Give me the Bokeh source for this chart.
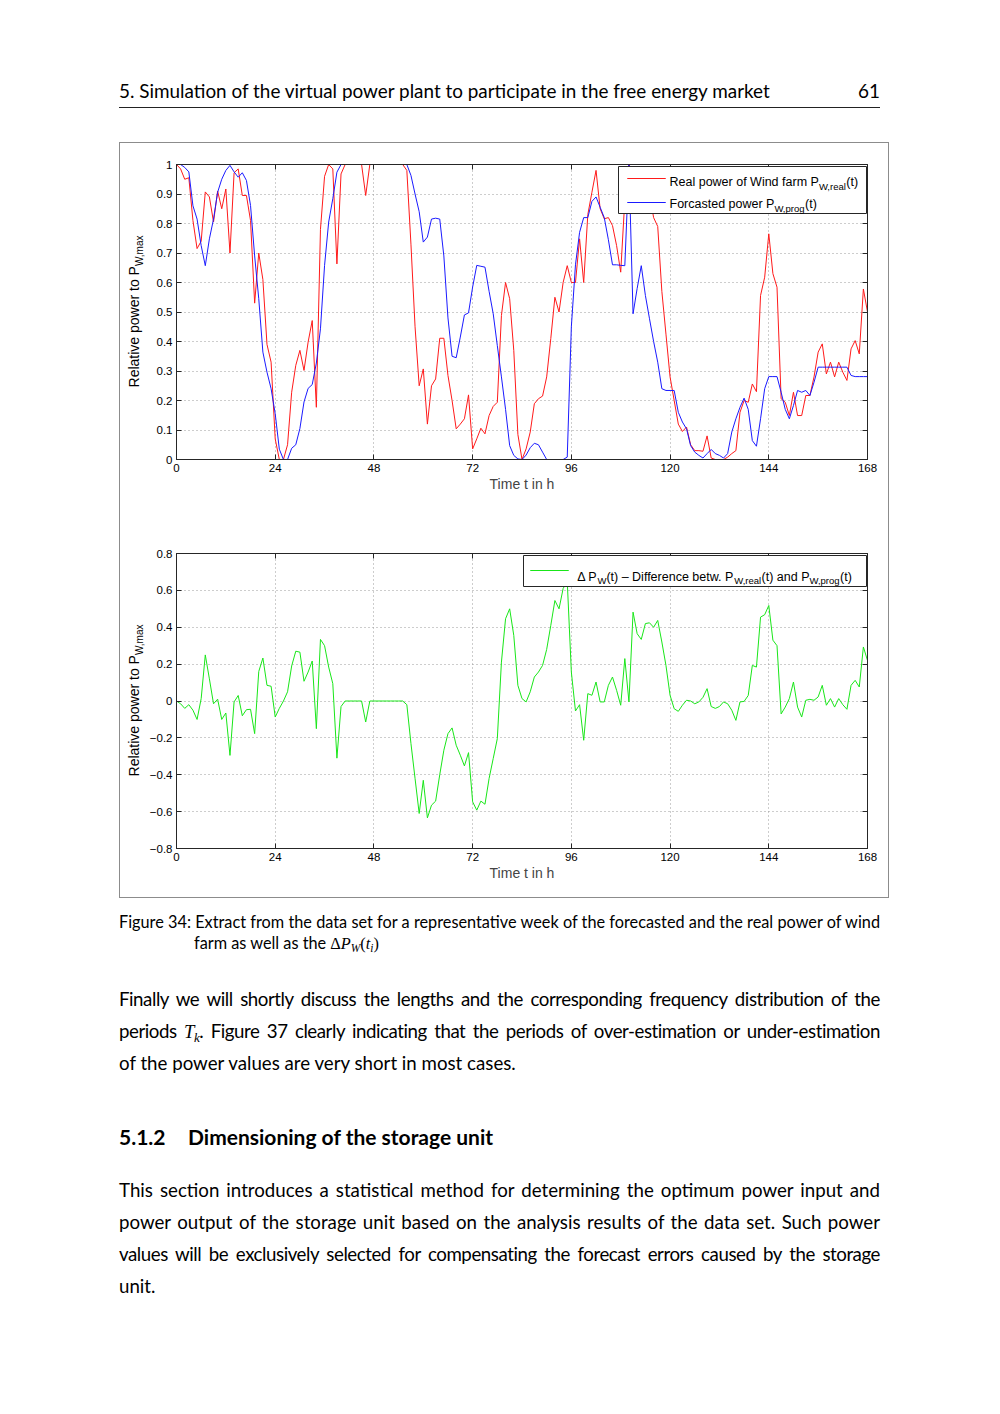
import math
from bokeh.plotting import figure
from bokeh.models import (Range1d, FixedTicker, CustomJSTickFormatter, LinearAxis,
                          Label, BoxAnnotation, Div, Spacer)
from bokeh.layouts import column, row
from bokeh.embed import file_html
from bokeh.resources import INLINE

# ---------------- data ----------------
hours = list(range(169))

p_real = [
    1.0, 0.985, 0.95, 0.955, 0.81, 0.715, 0.74, 0.907, 0.89, 0.805,
    0.91, 0.85, 0.917, 0.70, 0.972, 0.985, 0.895, 0.895, 0.81, 0.53,
    0.70, 0.61, 0.39, 0.33, 0.07, 0.0, 0.0, 0.05, 0.228, 0.319,
    0.37, 0.302, 0.398, 0.471, 0.177, 0.78, 0.96, 1.0, 0.985, 0.663,
    0.968, 1.0, 1.0, 1.0, 1.0, 1.0, 0.895, 1.0, 1.0, 1.0,
    1.0, 1.0, 1.0, 1.0, 1.0, 1.0, 0.98, 0.73, 0.45, 0.25,
    0.307, 0.12, 0.25, 0.273, 0.411, 0.411, 0.285, 0.20, 0.104, 0.12,
    0.138, 0.219, 0.036, 0.07, 0.106, 0.087, 0.149, 0.18, 0.194, 0.488,
    0.60, 0.545, 0.37, 0.085, 0.0, 0.036, 0.093, 0.189, 0.206, 0.215,
    0.28, 0.41, 0.55, 0.50, 0.60, 0.657, 0.60, 0.60, 0.748, 0.60,
    0.83, 0.906, 0.98, 0.85, 0.816, 0.82, 0.793, 0.725, 0.635, 0.88,
    1.0, 0.976, 0.945, 0.99, 0.976, 0.90, 0.82, 0.79, 0.57, 0.425,
    0.28, 0.2, 0.12, 0.095, 0.11, 0.05, 0.03, 0.03, 0.028, 0.08,
    0.005, 0.0, 0.0, 0.0, 0.008, 0.02, 0.03, 0.16, 0.2, 0.194,
    0.256, 0.23, 0.556, 0.618, 0.765, 0.63, 0.584, 0.206, 0.194, 0.149,
    0.228, 0.149, 0.149, 0.217, 0.217, 0.28, 0.364, 0.392, 0.29, 0.33,
    0.28, 0.33, 0.296, 0.268, 0.375, 0.403, 0.358, 0.578, 0.50,
]

p_prog = [
    1.0, 1.0, 0.99, 0.975, 0.86, 0.815, 0.725, 0.657, 0.748, 0.815,
    0.906, 0.95, 0.98, 0.997, 0.975, 0.957, 0.972, 0.946, 0.861, 0.69,
    0.545, 0.364, 0.296, 0.24, 0.155, 0.035, 0.0, 0.0, 0.038, 0.05,
    0.105, 0.195, 0.241, 0.254, 0.327, 0.443, 0.658, 0.805, 0.884, 0.974,
    1.0, 1.0, 1.0, 1.0, 1.0, 1.0, 1.0, 1.0, 1.0, 1.0,
    1.0, 1.0, 1.0, 1.0, 1.0, 1.0, 1.0, 0.963, 0.9, 0.84,
    0.737, 0.754, 0.815, 0.818, 0.815, 0.69, 0.48, 0.35, 0.345, 0.415,
    0.49, 0.497, 0.585, 0.658, 0.655, 0.652, 0.57, 0.494, 0.386, 0.28,
    0.17, 0.047, 0.014, 0.002, 0.0, 0.015, 0.04, 0.055, 0.05, 0.025,
    0.0, 0.0, 0.0, 0.0, 0.0, 0.008, 0.45, 0.66, 0.77, 0.82,
    0.82, 0.875, 0.89, 0.855, 0.82, 0.745, 0.66, 0.66, 0.658, 0.657,
    1.0, 0.494, 0.58, 0.657, 0.556, 0.477, 0.40, 0.33, 0.24, 0.234,
    0.234, 0.234, 0.16, 0.127, 0.104, 0.047, 0.025, 0.014, 0.005, 0.02,
    0.034, 0.02, 0.014, 0.005, 0.02, 0.093, 0.138, 0.177, 0.208, 0.17,
    0.064, 0.045, 0.138, 0.24, 0.281, 0.281, 0.281, 0.228, 0.17, 0.138,
    0.183, 0.234, 0.228, 0.234, 0.217, 0.262, 0.313, 0.313, 0.313, 0.313,
    0.313, 0.313, 0.313, 0.313, 0.285, 0.281, 0.281, 0.281, 0.281,
]

delta_p = [
    0.0, -0.015, -0.04, -0.02, -0.05, -0.10, 0.013, 0.25, 0.12, -0.015,
    0.01, -0.10, -0.065, -0.295, -0.005, 0.03, -0.08, -0.047, -0.045, -0.177,
    0.16, 0.233, 0.085, 0.08, -0.087, -0.04, 0.0, 0.05, 0.19, 0.27,
    0.265, 0.107, 0.157, 0.217, -0.15, 0.334, 0.30, 0.184, 0.094, -0.31,
    -0.03, 0.0, 0.0, 0.0, 0.0, 0.0, -0.114, 0.0, 0.0, 0.0,
    0.0, 0.0, 0.0, 0.0, 0.0, 0.0, -0.02, -0.23, -0.42, -0.61,
    -0.43, -0.634, -0.565, -0.543, -0.40, -0.267, -0.177, -0.146, -0.24, -0.294,
    -0.352, -0.28, -0.547, -0.592, -0.543, -0.56, -0.42, -0.312, -0.204, 0.211,
    0.446, 0.50, 0.356, 0.085, 0.013, -0.005, 0.05, 0.13, 0.157, 0.193,
    0.28, 0.41, 0.545, 0.50, 0.61, 0.65, 0.157, -0.054, -0.02, -0.213,
    0.04, 0.031, 0.103, -0.005, -0.005, 0.085, 0.13, 0.058, -0.023, 0.23,
    -0.005, 0.482, 0.365, 0.334, 0.42, 0.424, 0.40, 0.437, 0.32, 0.193,
    0.031, -0.042, -0.056, -0.023, 0.004, 0.0, -0.015, -0.005, 0.02, 0.067,
    -0.03, -0.04, -0.03, -0.005, -0.015, -0.05, -0.105, -0.005, -0.002, 0.03,
    0.193, 0.184, 0.455, 0.468, 0.518, 0.33, 0.30, -0.07, -0.033, 0.013,
    0.103, -0.033, -0.087, 0.004, 0.009, 0.004, 0.022, 0.085, -0.023, 0.013,
    -0.033, 0.013, -0.02, -0.045, 0.085, 0.112, 0.076, 0.293, 0.22,
]

x_ticks = [0, 24, 48, 72, 96, 120, 144, 168]
top_y_ticks = [0.0, 0.1, 0.2, 0.3, 0.4, 0.5, 0.6, 0.7, 0.8, 0.9, 1.0]
bottom_y_ticks = [-0.8, -0.6, -0.4, -0.2, 0.0, 0.2, 0.4, 0.6, 0.8]

x_label = "Time t in h"
y_label_main = "Relative power to P"
y_label_sub = "W,max"

# ---------------- styling helpers ----------------
FONT = "Liberation Sans"
AXC = "#262626"
BOXC = "#8c8c8c"
LAB_W = 26          # width of the HTML strip holding the rotated y label

fmt_code = """
const r = Math.round(tick * 10) / 10;
let s = Math.abs(r - Math.round(r)) < 1e-9 ? String(Math.round(r)) : r.toFixed(1);
return s.replace("-", "\u2212");
"""


def style_axis(ax, ticks, show):
    ax.ticker = FixedTicker(ticks=ticks)
    ax.formatter = CustomJSTickFormatter(code=fmt_code)
    ax.major_tick_in = 5
    ax.major_tick_out = 0
    ax.minor_tick_line_color = None
    ax.major_tick_line_color = AXC
    ax.axis_line_color = AXC
    ax.major_label_text_font = FONT
    ax.major_label_standoff = 4
    if show:
        ax.major_label_text_font_size = "11.5px"
        ax.major_label_text_color = "black"
    else:
        ax.major_label_text_font_size = "0px"
        ax.major_label_text_color = None


def make_panel(height, b_top, b_bottom, y_lo, y_hi, y_ticks):
    p = figure(width=768 - LAB_W, height=height, x_range=Range1d(0, 168),
               y_range=Range1d(y_lo, y_hi), output_backend="svg",
               toolbar_location=None, min_border_left=56 - LAB_W, min_border_right=21,
               min_border_top=b_top, min_border_bottom=b_bottom)
    p.background_fill_color = "white"
    p.border_fill_color = "white"
    p.outline_line_color = AXC
    bx = p.below[0]
    ly = p.left[0]
    style_axis(bx, x_ticks, True)
    style_axis(ly, y_ticks, True)
    bx.axis_label = x_label
    bx.axis_label_text_font = FONT
    bx.axis_label_text_font_size = "14px"
    bx.axis_label_text_font_style = "normal"
    bx.axis_label_standoff = 1
    ra = LinearAxis()
    style_axis(ra, y_ticks, False)
    p.add_layout(ra, "right")
    ta = LinearAxis()
    style_axis(ta, x_ticks, False)
    p.add_layout(ta, "above")
    p.xgrid.ticker = FixedTicker(ticks=x_ticks)
    p.ygrid.ticker = FixedTicker(ticks=y_ticks)
    for g in (p.xgrid, p.ygrid):
        g.grid_line_color = "#9a9a9a"
        g.grid_line_dash = "1 3"
        g.grid_line_width = 1
    return p


def ylabel_div(height, frame_bottom):
    # rotated HTML text (real text) centred on the 295 px high frame
    html = (
        f'<div style="position:relative;width:{LAB_W}px;height:{height}px;">'
        f'<div style="position:absolute;left:7px;top:{frame_bottom}px;width:295px;'
        f'transform-origin:0 0;transform:rotate(-90deg);text-align:center;'
        f'white-space:nowrap;font-family:\'{FONT}\';font-size:14px;line-height:14px;color:#000;">'
        f'{y_label_main}<span style="font-size:10px;position:relative;top:3.5px;">{y_label_sub}</span>'
        f'</div></div>'
    )
    return Div(text=html, width=LAB_W, height=height, margin=0)


def txt(p, x, y, s, size="12.5px"):
    p.add_layout(Label(x=x, y=y, x_units="screen", y_units="screen", text=s,
                       text_font=FONT, text_font_size=size, text_align="left",
                       text_baseline="alphabetic", text_color="black"))


def legend_box(p, l, r, t, b):
    p.add_layout(BoxAnnotation(left=l, right=r, top=t, bottom=b,
                               left_units="screen", right_units="screen",
                               top_units="screen", bottom_units="screen",
                               fill_color="white", fill_alpha=1.0,
                               line_color=AXC, line_width=1, line_alpha=1.0))


def legend_sample(p, l, r, y, color):
    p.add_layout(BoxAnnotation(left=l, right=r, top=y, bottom=y,
                               left_units="screen", right_units="screen",
                               top_units="screen", bottom_units="screen",
                               fill_alpha=0.0, line_color=color, line_width=1,
                               line_alpha=1.0))


RED = "#ff1a1a"
BLUE = "#1a1aff"
GREEN = "#19e619"

# ---------------- top panel ----------------
top = make_panel(372, 21, 56, 0.0, 1.0, top_y_ticks)
top.line(hours, p_real, line_color=RED, line_width=1)
top.line(hours, p_prog, line_color=BLUE, line_width=1)
legend_box(top, 442, 690, 293, 246)
legend_sample(top, 451, 489, 281, RED)
legend_sample(top, 451, 489, 257, BLUE)
txt(top, 493, 278, "Real power of Wind farm  P")
txt(top, 642.4, 273.5, "W,real", "9.5px")
txt(top, 669.8, 278, "(t)")
txt(top, 493, 256, "Forcasted power  P")
txt(top, 597.9, 251.5, "W,prog", "9.5px")
txt(top, 628.5, 256, "(t)")

# ---------------- bottom panel ----------------
bot = make_panel(382, 38, 49, -0.8, 0.8, bottom_y_ticks)
bot.line(hours, delta_p, line_color=GREEN, line_width=1)
legend_box(bot, 347, 690, 293, 262)
legend_sample(bot, 354, 392, 278, GREEN)
txt(bot, 400.7, 272, "\u0394 P")
txt(bot, 420.9, 268, "W", "9.5px")
txt(bot, 429.9, 272, "(t) \u2013 Difference betw. P")
txt(bot, 557.7, 268, "W,real", "9.5px")
txt(bot, 585.1, 272, "(t) and P")
txt(bot, 633.0, 268, "W,prog", "9.5px")
txt(bot, 663.6, 272, "(t)")

# ---------------- page text ----------------
MATH = "font-family:'Liberation Serif';font-style:italic;"
SUB = "font-size:70%;line-height:0;vertical-align:-0.3em;"


def line_html(content, left, baseline, fs, width=None, justify=False,
              weight="normal", align=None, family="Lato", tight=False):
    topy = baseline - 0.887 * fs
    st = (f"position:absolute;left:{left}px;top:{topy:.1f}px;font-family:{family};"
          f"font-size:{fs}px;line-height:{fs}px;font-weight:{weight};color:#000;")
    if width:
        st += f"width:{width}px;"
    if justify:
        st += "text-align:justify;text-align-last:justify;"
    else:
        st += "white-space:nowrap;"
    if tight:
        st += "letter-spacing:-0.45px;word-spacing:-1px;"
    if align:
        st += f"text-align:{align};"
    return f'<div style="{st}">{content}</div>'


BODY_FS = 18.7
CAP_FS = 16.3

header_html = (
    '<div style="position:relative;width:992px;height:143px;">'
    + line_html("5. Simulation of the virtual power plant to participate in the free energy market",
                119, 99, 18.9)
    + line_html("61", 119, 99, 18.9, width=761, align="right")
    + '<div style="position:absolute;left:119px;top:107px;width:761px;height:1px;background:#222;"></div>'
    + f'<div style="position:absolute;left:119px;top:142px;width:770px;height:1px;background:{BOXC};"></div>'
    + '</div>'
)

dpw = (f'<span style="font-family:\'Liberation Serif\';">\u0394<i>P</i>'
       f'<sub style="{SUB}"><i>W</i></sub>(<i>t</i><sub style="{SUB}"><i>i</i></sub>)</span>')
tk = f'<span style="{MATH}">T</span><sub style="{SUB}{MATH}">k</sub>'

B = 897
body_html = (
    '<div style="position:relative;width:992px;height:509px;">'
    + f'<div style="position:absolute;left:119px;top:0px;width:770px;height:1px;background:{BOXC};"></div>'
    + line_html("Figure 34: Extract from the data set for a representative week of the forecasted and the real power of wind",
                119, 928 - B, CAP_FS, width=761, justify=True)
    + line_html("farm as well as the " + dpw, 194, 949 - B, CAP_FS)
    + line_html("Finally we will shortly discuss the lengths and the corresponding frequency distribution of the",
                119, 1007 - B, BODY_FS, width=761, justify=True, tight=True)
    + line_html("periods " + tk + ". Figure 37 clearly indicating that the periods of over-estimation or under-estimation",
                119, 1039 - B, BODY_FS, width=761, justify=True, tight=True)
    + line_html("of the power values are very short in most cases.", 119, 1071 - B, BODY_FS)
    + line_html("5.1.2", 119, 1145 - B, 21, weight="700")
    + line_html("Dimensioning of the storage unit", 188, 1145 - B, 21, weight="700")
    + line_html("This section introduces a statistical method for determining the optimum power input and",
                119, 1198 - B, BODY_FS, width=761, justify=True)
    + line_html("power output of the storage unit based on the analysis results of the data set.  Such power",
                119, 1230 - B, BODY_FS, width=761, justify=True)
    + line_html("values will be exclusively selected for compensating the forecast errors caused by the storage",
                119, 1262 - B, BODY_FS, width=761, justify=True, tight=True)
    + line_html("unit.", 119, 1294 - B, BODY_FS)
    + '</div>'
)

header = Div(text=header_html, width=992, height=143, margin=0)
body = Div(text=body_html, width=992, height=509, margin=0)
left_pad = Spacer(width=119, height=754, margin=0)
left_line = Div(text="", width=1, height=754, margin=0, styles={"background-color": BOXC})
right_line = Div(text="", width=1, height=754, margin=0, styles={"background-color": BOXC})
top_row = row(ylabel_div(372, 459 - 143), top, spacing=0)
bot_row = row(ylabel_div(382, 848 - 515), bot, spacing=0)
plots = column(top_row, bot_row, spacing=0)
mid = row(left_pad, left_line, plots, right_line, spacing=0)
page = column(header, mid, body, spacing=0)

open("out.html", "w").write(file_html(page, INLINE))
